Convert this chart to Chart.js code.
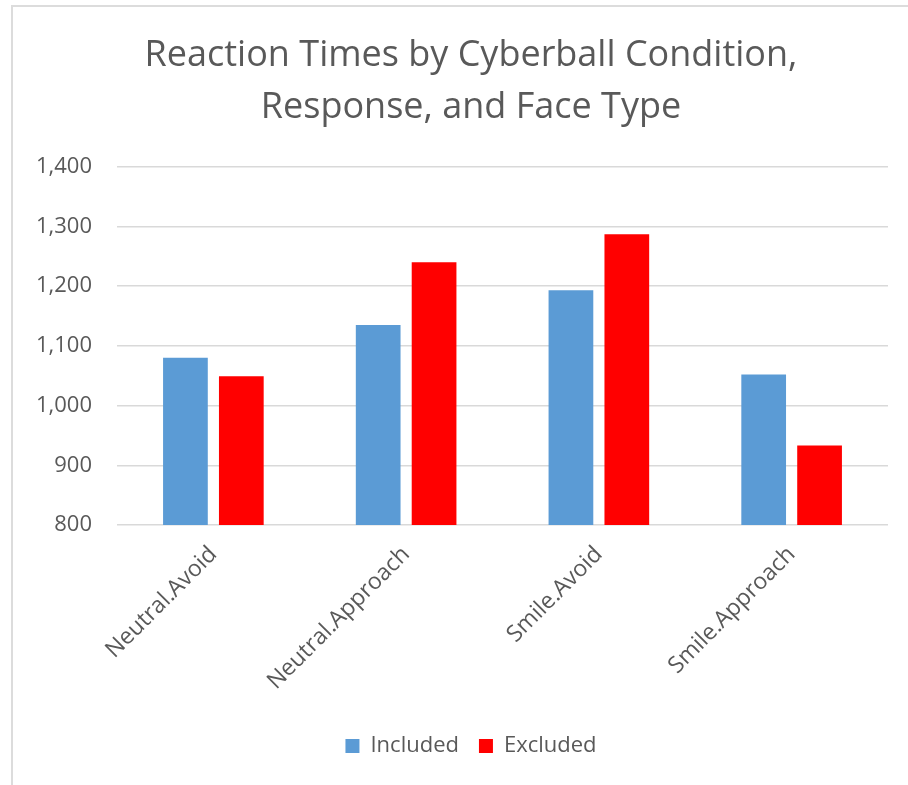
<!DOCTYPE html>
<html>
<head>
<meta charset="utf-8">
<script src="https://cdn.jsdelivr.net/npm/chart.js@4.4.1/dist/chart.umd.min.js"></script>
<style>
  html, body { margin: 0; padding: 0; background: #ffffff; }
  #wrap { position: relative; width: 908px; height: 785px; overflow: hidden; }
  #frameTop { position: absolute; left: 11px; top: 5px; width: 897px; height: 2px; background: #dcdcdc; }
  #frameLeft { position: absolute; left: 11px; top: 5px; width: 2px; height: 780px; background: #dcdcdc; }
  canvas { position: absolute; left: 0; top: 0; }
</style>
</head>
<body>
<div id="wrap">
  <canvas id="chart" width="908" height="785"></canvas>
  <div id="frameTop"></div>
  <div id="frameLeft"></div>
</div>
<script>
// Reaction times (ms) by face type / response, split by Cyberball condition
const categories = ['Neutral.Avoid', 'Neutral.Approach', 'Smile.Avoid', 'Smile.Approach'];
const includedRT = [1080, 1135, 1193, 1052];
const excludedRT = [1049, 1240, 1287, 933];
const yTicks = [800, 900, 1000, 1100, 1200, 1300, 1400];
const titleLines = ['Reaction Times by Cyberball Condition,', 'Response, and Face Type'];

const FONT = '"Open Sans", Lato, sans-serif';
const GREY_TEXT = '#595959';

// Let the value-axis labels use the space left of the axis box instead of being clipped.
const widenValueLabels = {
  id: 'widenValueLabels',
  afterLayout(chart) { chart.scales.y.left = 0; }
};

new Chart(document.getElementById('chart'), {
  type: 'bar',
  data: {
    labels: categories,
    datasets: [
      { label: 'Included', data: includedRT, backgroundColor: '#5B9BD5' },
      { label: 'Excluded', data: excludedRT, backgroundColor: '#FF0000' }
    ]
  },
  plugins: [widenValueLabels],
  options: {
    responsive: false,
    animation: false,
    devicePixelRatio: 1,
    layout: { padding: { left: 54, right: 20, top: 0, bottom: 18 } },
    datasets: {
      bar: { categoryPercentage: 0.58, barPercentage: 0.8 }
    },
    plugins: {
      title: {
        display: true,
        text: titleLines,
        color: GREY_TEXT,
        font: { family: FONT, size: 36, weight: 'normal', lineHeight: 1.44 },
        padding: { top: 30, bottom: 33 }
      },
      legend: {
        position: 'bottom',
        labels: {
          color: GREY_TEXT,
          font: { family: FONT, size: 22 },
          boxWidth: 14,
          boxHeight: 14,
          padding: 20
        }
      },
      tooltip: { enabled: false }
    },
    scales: {
      x: {
        grid: { display: false },
        border: { display: false },
        ticks: {
          color: GREY_TEXT,
          font: { family: FONT, size: 23 },
          minRotation: 45,
          maxRotation: 45,
          padding: 8
        },
        afterFit(scale) { scale.height = 190; }
      },
      y: {
        min: 800,
        max: 1400,
        afterBuildTicks(scale) { scale.ticks = yTicks.map(v => ({ value: v })); },
        grid: { color: '#d9d9d9', lineWidth: 1.5, drawTicks: false },
        border: { display: false },
        ticks: {
          color: GREY_TEXT,
          font: { family: FONT, size: 22 },
          padding: 25,
          callback: v => v.toLocaleString('en-US')
        },
        afterFit(scale) { scale.width = 63; }
      }
    }
  }
});
</script>
</body>
</html>
